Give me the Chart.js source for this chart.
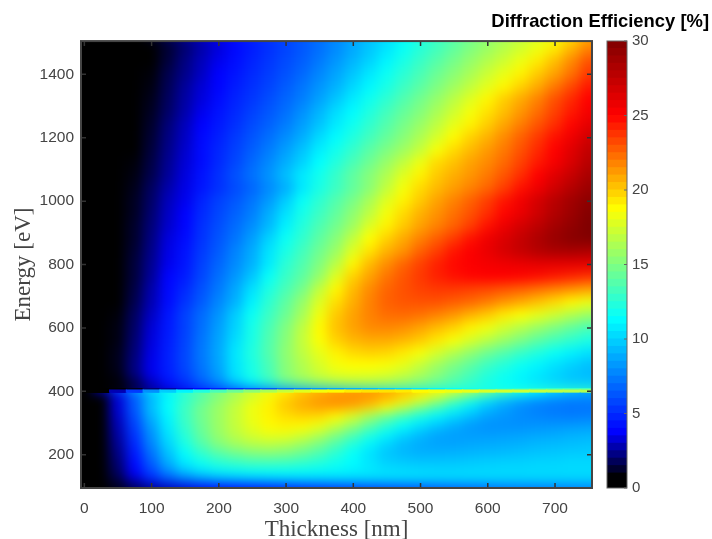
<!DOCTYPE html>
<html>
<head>
<meta charset="utf-8">
<title>Diffraction Efficiency</title>
<script src="https://cdn.jsdelivr.net/npm/chart.js@4"></script>
<style>
  html, body { margin: 0; padding: 0; background: #fff; }
  #wrap { position: relative; width: 712px; height: 539px; overflow: hidden; }
  canvas { position: absolute; top: 0; }
  #main { left: 0; }
  #bar { left: 600px; }
</style>
</head>
<body>
<div id="wrap">
  <canvas id="main" width="712" height="539"></canvas>
  <canvas id="bar" width="70" height="539"></canvas>
</div>
<script>
const thicknessTicks = [0, 100, 200, 300, 400, 500, 600, 700];
const energyTicks = [200, 400, 600, 800, 1000, 1200, 1400];
const efficiencyTicks = [0, 5, 10, 15, 20, 25, 30];

// column centres in nm
const thickness = [0, 25, 50, 75, 100, 125, 150, 175, 200, 225, 250, 275, 300, 325, 350, 375, 400, 425, 450, 475, 500, 525, 550, 575, 600, 625, 650, 675, 700, 725, 750];

// row limits in eV, one more entry than rows in efficiency (rows are thin around the 400 eV edge)
const energyEdges = [95, 105, 130, 155, 185, 215, 245, 275, 305, 335, 362, 382, 394, 404, 412, 430, 460, 500, 540, 580, 620, 660, 700, 740, 780, 820, 860, 900, 940, 980, 1020, 1060, 1100, 1140, 1180, 1220, 1260, 1300, 1340, 1380, 1420, 1460, 1505];

// efficiency in %, lowest energy first
const efficiency = [
  [0,0,.6,1.2, 2,2.6,3,3.4, 3.6,3.8,4,4.2, 4.4,4.6,4.8,5, 5.2,5.4,5.6,5.8, 6,6.2,6.4,6.6, 6.8,7,7,7.2, 7.2,7.4,7.4],
  [0,0,1.5,3, 4.6,6,7,7.8, 8.4,8.8,9,9.2, 9.4,9.6,9.7,9.8, 9.9,10,10,10, 10,10,10,10, 10,10,10,10, 10,10,10],
  [0,0,1.8,3.6, 5.6,7.6,9.2,10.2, 10.8,11,11.2,11.3, 11.3,11.2,11.1,11, 10.8,10.6,10.5,10.4, 10.3,10.2,10.2,10.2, 10.2,10.2,10.2,10.2, 10.2,10.2,10.2],
  [0,0,2,4, 6.4,8.8,10.6,11.6, 12.3,12.7,13,13, 12.9,12.6,12.2,11.7, 11.2,10.6,10,9.8, 9.7,9.7,9.7,9.8, 9.9,10,10,10.1, 10.1,10.2,10.2],
  [0,0,2.2,4.4, 7,9.4,11.2,12.6, 13.6,14.3,14.8,15, 14.8,14.2,13.4,12.4, 11.4,10.4,9.6,9.2, 9,9,9.1,9.2, 9.3,9.4,9.5,9.6, 9.7,9.8,9.8],
  [0,0,2.4,4.8, 7.6,10,12,13.6, 15,15.9,16.5,16.7, 16.4,15.7,14.7,13.5, 12.2,11,10,9.2, 8.8,8.6,8.6,8.7, 8.8,8.9,9,9.2, 9.3,9.4,9.5],
  [0,0,2.6,5.2, 8,10.4,12.4,14.2, 15.6,16.7,17.5,18, 18,17.4,16.4,15, 13.6,12.2,11,10, 9.2,8.6,8.4,8.4, 8.4,8.5,8.6,8.7, 8.8,9,9.1],
  [0,0,2.8,5.6, 8.4,10.8,12.8,14.4, 15.8,17,18,18.8, 19,18.8,18.2,17, 15.6,14,12.6,11.4, 10.4,9.6,8.9,8.3, 8,8,8,8.1, 8.2,8.3,8.4],
  [0,0,3,6, 9,11,13,14.6, 15.8,17,18.2,19, 19.5,19.8,19.6,18.8, 17.6,16,14.5,13.2, 12,11,10.2,9.4, 8.6,8.2,7.9,7.7, 7.5,7.4,7.5],
  [0,0,3.2,6.4, 9.4,11.4,13,14.6, 15.8,17,18.2,19, 20,20.6,21,21, 20.6,19.8,18.6,17, 15.2,13.6,12,10.6, 9.4,8.6,7.9,7.5, 7.3,7.2,7.2],
  [0,0,3.2,6.4, 9.2,11.2,12.8,14, 15.4,16.6,17.8,19, 20,20.8,21.4,21.8, 21.8,21.4,20.6,19.4, 17.8,16,14,12.2, 10.6,9.4,8.6,8, 7.6,7.4,7.5],
  [0,0,3,6, 8.8,10.6,12,13.4, 14.6,15.8,17,18, 19,19.8,20.4,20.8, 21,21,20.6,20, 19.2,18.2,17,15.6, 14,12.6,11.4,10.4, 9.6,9,8.6],
  [0,0,2.8,5.4, 8,9.8,11,12.2, 13.4,14.4,15.4,16.2, 17,17.8,18.4,18.8, 19.2,19.4,19.4,19.2, 18.8,18.4,18.2,18, 17.6,17.4,17.2,17, 16.8,16.6,16.4],
  [0,0,.4,1, 2,2.6,3.2,3.8, 4.4,5,5.6,6.2, 7,7.6,8.2,8.6, 9,9.4,9.8,10.2, 10.6,11,11.4,11.8, 12,12.2,12.4,12.6, 12.8,13,13.2],
  [0,0,.3,1.2, 2.6,3.9,5,6.4, 7.8,9.4,11,12.3, 13.7,14.6,15.4,16, 16.4,16.5,16.3,15.9, 15.2,14.4,13.6,12.8, 12,11.5,11,10.6, 10.2,9.9,9.8],
  [0,0,.9,2.1, 3.4,4.5,5.5,6.9, 8.3,10.4,11.9,13.3, 15.2,16.2,17,17.5, 17.6,17.5,17.2,16.6, 15.9,15,14,13.1, 12.2,11.6,11,10.5, 10,9.5,9.3],
  [0,0,1,2.2, 3.5,4.6,5.8,7.2, 8.6,10.5,12,13.4, 15.2,16.4,17.5,18.4, 18.7,18.7,18.5,18, 17,15.9,14.9,14, 13,12.3,11.6,11, 10.4,9.9,9.4],
  [0,0,1,2.1, 3.4,4.6,5.8,7.3, 8.7,10.6,12.2,13.7, 15.4,16.8,18,19, 19.6,19.8,19.7,19.2, 18.5,17.5,16.5,15.5, 14.5,13.7,12.9,12.2, 11.5,10.9,10.4],
  [0,0,.9,2, 3.3,4.5,5.7,7.2, 8.6,10.3,12,13.6, 15.2,17,18.6,19.8, 20.5,20.8,20.8,20.5, 20,19.3,18.5,17.6, 16.7,15.8,14.9,14, 13.3,12.7,12.1],
  [0,0,.9,1.9, 3.2,4.4,5.6,7, 8.4,10,11.9,13.4, 15,16.8,18.8,20.2, 21,21.6,21.7,21.5, 21,20.4,19.8,19, 18.3,17.4,16.6,15.8, 15,14.2,13.5],
  [0,0,.8,1.8, 3,4.3,5.6,6.9, 8.1,9.8,11.6,13, 14.4,16.1,18.3,20, 21,21.8,22.3,22.4, 22.2,21.8,21.3,20.6, 20,19.2,18.6,18, 17.3,16.5,15.8],
  [0,0,.7,1.6, 2.8,4,5.2,6.4, 7.7,9,10.9,12.6, 14,15.6,17.7,19.5, 20.7,21.8,22.6,22.9, 23,23,22.7,22.4, 21.9,21.3,20.8,20.2, 19.6,18.9,18.2],
  [0,0,.6,1.5, 2.7,3.9,4.9,6.1, 7.3,8.7,10.4,12.1, 13.4,14.7,16.9,18.9, 20.4,21.6,22.5,23, 23.4,23.6,23.6,23.4, 23.2,22.9,22.6,22.2, 21.8,21.4,21],
  [0,0,.6,1.4, 2.5,3.8,4.5,5.8, 7,8.2,9.6,11.5, 12.9,14,15.6,17.8, 19.8,21,22.1,22.9, 23.6,24.2,24.6,24.9, 25,25,24.9,24.7, 24.4,24.1,23.8],
  [0,0,.6,1.4, 2.4,3.5,4.3,5.6, 6.7,7.8,9,10.7, 12.5,13.6,15,16.7, 18.9,20.4,21.5,22.5, 23.4,24.2,24.8,25.1, 25.4,25.6,25.8,26, 26,26,26],
  [0,0,.5,1.3, 2.3,3.4,4.2,5.4, 6.4,7.6,8.8,10.5, 12,13.2,14.5,15.8, 17.8,19.4,20.6,21.4, 22.6,23.5,24.5,25.1, 25.8,26.6,27.3,27.9, 28.3,28.4,28.2],
  [0,0,.5,1.2, 2.2,3.3,4,5.2, 6.2,7.2,8.4,10, 11.6,12.7,14,15.2, 16.9,18.7,19.8,20.8, 21.8,22.7,23.6,24.6, 25.6,26.4,27.3,28.2, 29,29.6,29.9],
  [0,0,.5,1.2, 2.1,3.1,3.8,5.1, 6,6.9,7.9,9.2, 10.9,12.3,13.5,14.6, 15.9,17.7,19,20, 21,21.8,22.6,23.5, 24.6,25.7,26.7,27.6, 28.6,29.3,30],
  [0,0,.5,1.1, 2,3,3.7,4.9, 5.8,6.6,7.5,8.9, 10.4,11.9,13,14.1, 15.4,16.8,18.4,19.6, 20.6,21.4,22.2,23, 23.9,24.9,25.8,26.9, 28,28.9,29.8],
  [0,0,.4,1.1, 1.9,2.9,3.5,4.7, 5.6,6.3,7.2,8.3, 9.8,11.5,12.6,13.7, 14.8,16.2,17.8,19, 20,21,21.8,22.6, 23.5,24.5,25.5,26.7, 27.8,28.7,29.5],
  [0,0,.4,1, 1.8,2.7,3.4,4.3, 5.1,5.9,6.7,7.8, 8.9,10.6,12,13, 14.1,15.3,16.9,18.4, 19.6,20.4,21.1,21.8, 22.5,23.5,24.6,25.6, 26.8,27.9,28.9],
  [0,0,.4,.9, 1.6,2.5,3.3,4.2, 5.1,6.1,7.1,8.1, 9.4,10.7,11.8,12.9, 14.1,15.2,16.4,17.8, 19,20,20.7,21.3, 22,22.9,23.9,25, 26.2,27.2,28.4],
  [0,0,.3,.8, 1.5,2.4,3.2,4, 4.9,5.8,6.8,7.8, 8.9,10,11.3,12.3, 13.4,14.5,15.7,16.9, 18.2,19.6,20.2,21, 21.6,22.4,23.4,24.4, 25.3,26.5,27.8],
  [0,0,.2,.7, 1.4,2.3,3.1,4, 4.8,5.6,6.5,7.4, 8.4,9.5,10.8,11.8, 12.8,13.9,14.9,15.9, 17,18.5,19.6,20.4, 21.2,22,23,24, 25,26.2,27.4],
  [0,0,.2,.7, 1.3,2.2,3,3.9, 4.6,5.4,6.2,7, 7.9,8.9,10.2,11.2, 12.2,13.2,14.2,15.2, 16.3,17.5,18.8,19.8, 20.6,21.6,22.6,23.6, 24.6,25.6,26.8],
  [0,0,.1,.6, 1.2,2.1,2.9,3.7, 4.4,5.1,5.9,6.6, 7.4,8.4,9.5,10.7, 11.7,12.7,13.7,14.7, 15.7,16.8,18,19, 19.9,20.9,21.9,22.9, 23.9,24.9,26],
  [0,0,.1,.5, 1.1,1.9,2.7,3.5, 4.2,4.9,5.6,6.3, 7,8,9.1,10.3, 11.2,12.2,13.2,14.2, 15.1,16.2,17.3,18.4, 19.4,20.3,21.3,22.3, 23.4,24.4,25.4],
  [0,0,0,.5, 1,1.8,2.6,3.3, 4,4.7,5.3,6, 6.7,7.5,8.5,9.6, 10.7,11.7,12.6,13.6, 14.6,15.6,16.7,17.8, 18.9,19.9,20.8,21.8, 23,24,25],
  [0,0,0,.4, .9,1.7,2.5,3.2, 3.8,4.5,5.1,5.7, 6.4,7.2,8.1,9, 10.1,11.1,12,13, 13.9,14.9,15.9,16.9, 17.9,18.9,19.8,20.8, 22,23.2,24.4],
  [0,0,0,.3, .8,1.6,2.3,3, 3.7,4.3,4.9,5.5, 6.1,6.8,7.7,8.6, 9.6,10.6,11.6,12.5, 13.4,14.4,15.3,16.2, 17.2,18.1,19,20, 21,22.2,23.6],
  [0,0,0,.3, .7,1.4,2.2,2.9, 3.5,4.1,4.7,5.3, 5.9,6.5,7.3,8.2, 9.1,10,11,12, 12.9,13.8,14.7,15.6, 16.5,17.3,18.2,19.2, 20.3,21.6,23],
  [0,0,0,.2, .6,1.3,2,2.7, 3.3,3.9,4.5,5.1, 5.7,6.3,7,7.8, 8.7,9.6,10.5,11.5, 12.4,13.2,14.1,15, 15.8,16.6,17.4,18.2, 19.2,20.5,21.8]
];

// colour bar steps, lower limit of each band in %
const barLevels = [0, .5, 1, 1.5, 2, 2.5, 3, 3.5, 4, 4.5, 5, 5.5, 6, 6.5, 7, 7.5, 8, 8.5, 9, 9.5, 10, 10.5, 11, 11.5, 12, 12.5, 13, 13.5, 14, 14.5, 15, 15.5, 16, 16.5, 17, 17.5, 18, 18.5, 19, 19.5, 20, 20.5, 21, 21.5, 22, 22.5, 23, 23.5, 24, 24.5, 25, 25.5, 26, 26.5, 27, 27.5, 28, 28.5, 29, 29.5];

// jet with a black foot: [value, r, g, b]
const colorStops = [[0, 0, 0, 0], [.7, 0, 0, 0], [3.7, 0, 0, 255], [11.3, 0, 255, 255], [15, 128, 255, 128], [18.7, 255, 255, 0], [25, 255, 0, 0], [30, 128, 0, 0]];

function colorFor(v) {
  for (let i = 1; i < colorStops.length; i++) {
    const a = colorStops[i - 1], b = colorStops[i];
    if (v <= b[0]) {
      const f = (v - a[0]) / (b[0] - a[0]);
      return `rgb(${Math.round(a[1] + (b[1] - a[1]) * f)},${Math.round(a[2] + (b[2] - a[2]) * f)},${Math.round(a[3] + (b[3] - a[3]) * f)})`;
    }
  }
  return 'rgb(128,0,0)';
}

const TICK_FONT = { family: '"Liberation Sans", Arial, sans-serif', size: 15.5 };
const LABEL_FONT = { family: '"Liberation Serif", "Times New Roman", serif', size: 23 };
const TEXT_COLOR = '#444';

// the cells are much coarser than in the original, so soften them above and below the
// thin rows at the 400 eV edge; the edge itself has to stay sharp
const softenBands = [[95, 394], [412, 1505]];
const BLUR = 6;

function softenCells(chart) {
  const { ctx, chartArea: a, scales, canvas } = chart;
  const m = BLUR * 3;
  softenBands.forEach(([lo, hi]) => {
    const top = Math.round(scales.y.getPixelForValue(hi));
    const h = Math.round(scales.y.getPixelForValue(lo)) - top;
    const w = a.right - a.left;
    const copy = document.createElement('canvas');
    copy.width = w + 2 * m;
    copy.height = h + 2 * m;
    const c = copy.getContext('2d');
    // repeat the outer pixels in a margin so the blur does not fade out at the band limits
    c.drawImage(canvas, a.left, top, w, 1, 0, 0, w + 2 * m, m);
    c.drawImage(canvas, a.left, top + h - 1, w, 1, 0, m + h, w + 2 * m, m);
    c.drawImage(canvas, a.left, top, 1, h, 0, m, m, h);
    c.drawImage(canvas, a.right - 1, top, 1, h, m + w, m, m, h);
    c.drawImage(canvas, a.left, top, w, h, m, m, w, h);
    ctx.save();
    ctx.beginPath();
    ctx.rect(a.left, top, w, h);
    ctx.clip();
    ctx.filter = `blur(${BLUR}px)`;
    ctx.drawImage(copy, a.left - m, top - m);
    ctx.restore();
  });
}

// MATLAB style frame with the tick marks pointing inward on all four sides
const framePlugin = {
  id: 'frame',
  afterDatasetsDraw(chart) {
    softenCells(chart);
    const { ctx, chartArea: a, scales } = chart;
    ctx.save();
    ctx.strokeStyle = '#333';
    ctx.lineWidth = 1.5;
    ctx.beginPath();
    thicknessTicks.forEach(t => {
      const x = scales.x.getPixelForValue(t);
      ctx.moveTo(x, a.top); ctx.lineTo(x, a.top + 5);
      ctx.moveTo(x, a.bottom); ctx.lineTo(x, a.bottom - 5);
    });
    energyTicks.forEach(e => {
      const y = scales.y.getPixelForValue(e);
      ctx.moveTo(a.left, y); ctx.lineTo(a.left + 5, y);
      ctx.moveTo(a.right, y); ctx.lineTo(a.right - 5, y);
    });
    ctx.stroke();
    ctx.lineWidth = 2;
    ctx.strokeStyle = '#444';
    ctx.strokeRect(a.left, a.top, a.right - a.left, a.bottom - a.top);
    ctx.restore();
  }
};

const cellDatasets = efficiency.map((row, i) => ({
  label: `row ${i}`,
  data: row.map((v, j) => ({ x: thickness[j], y: [energyEdges[i], energyEdges[i + 1]] })),
  backgroundColor: row.map(colorFor),
  borderWidth: 0,
  inflateAmount: 0.6,
  grouped: false,
  barPercentage: 1,
  categoryPercentage: 1
}));

new Chart(document.getElementById('main'), {
  type: 'bar',
  data: { datasets: cellDatasets },
  options: {
    responsive: false,
    animation: false,
    events: [],
    layout: { padding: { right: 3 } },
    plugins: {
      legend: { display: false },
      tooltip: { enabled: false },
      title: {
        display: true,
        text: 'Diffraction Efficiency [%]',
        align: 'end',
        color: '#000',
        font: { family: '"Liberation Sans", Arial, sans-serif', size: 18.4, weight: 'bold' },
        padding: { top: 11, bottom: 8 }
      }
    },
    scales: {
      x: {
        type: 'linear',
        offset: false,
        min: -5,
        max: 755,
        grid: { display: false, drawTicks: false },
        border: { display: false },
        afterBuildTicks: s => { s.ticks = thicknessTicks.map(v => ({ value: v })); },
        afterFit: s => { s.height = 51; },
        ticks: { font: TICK_FONT, color: TEXT_COLOR, padding: 11, maxRotation: 0, autoSkip: false, callback: v => String(v) },
        title: { display: true, text: 'Thickness [nm]', font: LABEL_FONT, color: TEXT_COLOR, padding: { top: 0, bottom: -5 } }
      },
      y: {
        type: 'linear',
        min: 95,
        max: 1505,
        grid: { display: false, drawTicks: false },
        border: { display: false },
        afterBuildTicks: s => { s.ticks = energyTicks.map(v => ({ value: v })); },
        afterFit: s => { s.width = 81; },
        ticks: { font: TICK_FONT, color: TEXT_COLOR, padding: 7, autoSkip: false, callback: v => String(v) },
        title: { display: true, text: 'Energy [eV]', font: LABEL_FONT, color: TEXT_COLOR, padding: 10 }
      },
      // empty axis, keeps the room on the right for the colour bar
      gap: {
        type: 'linear',
        position: 'right',
        grid: { display: false },
        border: { display: false },
        ticks: { display: false },
        afterFit: s => { s.width = 117; }
      }
    }
  },
  plugins: [framePlugin]
});

const barFramePlugin = {
  id: 'barFrame',
  afterDatasetsDraw(chart) {
    const { ctx, chartArea: a, scales } = chart;
    ctx.save();
    ctx.strokeStyle = '#666';
    ctx.lineWidth = 1;
    ctx.strokeRect(a.left, a.top, a.right - a.left, a.bottom - a.top);
    ctx.beginPath();
    efficiencyTicks.forEach(v => {
      const y = scales.y.getPixelForValue(v);
      ctx.moveTo(a.right, y); ctx.lineTo(a.right - 3, y);
    });
    ctx.stroke();
    ctx.restore();
  }
};

new Chart(document.getElementById('bar'), {
  type: 'bar',
  data: {
    labels: [''],
    datasets: barLevels.map(v => ({
      label: `level ${v}`,
      data: [[v, v + .5]],
      backgroundColor: colorFor(v + .25),
      borderWidth: 0,
      inflateAmount: 0.5,
      grouped: false,
      barPercentage: 1,
      categoryPercentage: 1
    }))
  },
  options: {
    responsive: false,
    animation: false,
    events: [],
    // bottom of the bar lines up with the plot
    layout: { padding: { left: 7, top: 41, bottom: 51 } },
    plugins: { legend: { display: false }, tooltip: { enabled: false } },
    scales: {
      x: { display: false },
      y: {
        position: 'right',
        min: 0,
        max: 30,
        grid: { display: false, drawTicks: false },
        border: { display: false },
        afterBuildTicks: s => { s.ticks = efficiencyTicks.map(v => ({ value: v })); },
        afterFit: s => { s.width = 43; },
        ticks: { font: { family: TICK_FONT.family, size: 15 }, color: TEXT_COLOR, padding: 5 }
      }
    }
  },
  plugins: [barFramePlugin]
});
</script>
</body>
</html>
